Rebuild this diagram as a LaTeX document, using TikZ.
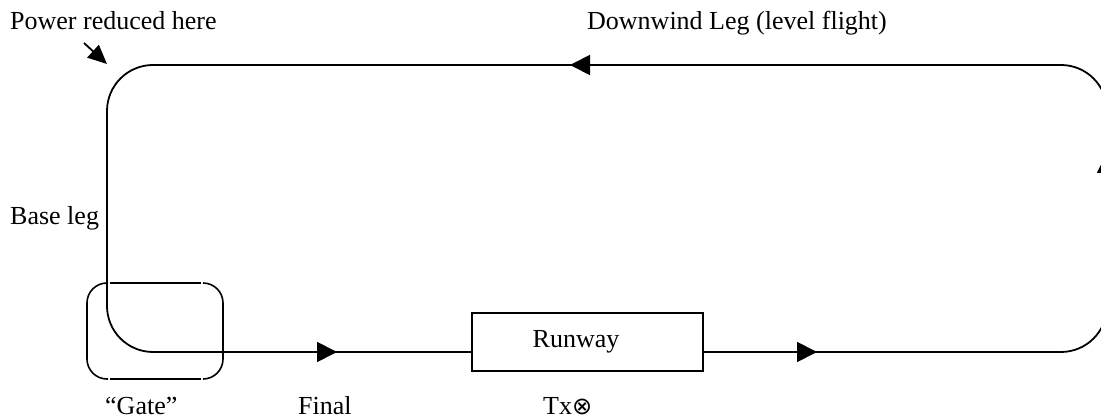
\documentclass[tikz,border=0pt]{standalone}
\usepackage{fontspec}
\setmainfont{Liberation Serif}
\newfontfamily\symfont{DejaVu Sans}
\usetikzlibrary{arrows.meta}
\begin{document}
\begin{tikzpicture}[x=1pt,y=-1pt,
  line/.style={line width=1.8pt},
  tri/.style={-{Triangle[length=20pt,width=20pt]}},
  lbl/.style={anchor=base west,inner sep=0pt,font=\fontsize{26}{30}\selectfont},
  gatepart/.style={line width=1.6pt,rounded corners=20pt},
  rwbox/.style={draw,line width=1.8pt,minimum width=231pt,minimum height=58pt,inner sep=0pt}]
\useasboundingbox (0,0) rectangle (1101,419);
% corner coordinates of the circuit
\coordinate (br) at (1107,352);
\coordinate (tr) at (1107,65);
\coordinate (tl) at (107,65);
\coordinate (bl) at (107,352);
% runway
\node[rwbox] (runway) at (587.5,342) {};
\node[lbl,anchor=base] (rwtext) at (576,348) {Runway};
\coordinate (rwin) at (runway.west |- bl);
\coordinate (rwout) at (runway.east |- bl);
% arrow tips
\coordinate (a1) at (817,352);
\coordinate (a2) at (1107,153);
\coordinate (a3) at (570,65);
\coordinate (a4) at (337,352);
\coordinate (s2) at (1107,260);
\coordinate (s3) at (700,65);
\coordinate (s4) at (250,352);
% the circuit
\draw[line,rounded corners=46pt] (rwout) -- (br) -- (tr) -- (tl) -- (bl) -- (rwin);
\draw[line,tri] (rwout) -- (a1);
\draw[line,tri] (s2) -- (a2);
\draw[line,tri] (s3) -- (a3);
\draw[line,tri] (s4) -- (a4);
% power reduced arrow
\coordinate (ps) at (84,43);
\coordinate (pe) at (107,64);
\draw[line,-{Triangle[length=19pt,width=17pt]}] (ps) -- (pe);
% gate box
\draw[gatepart] (108,283) -- (87,283) -- (87,379) -- (108,379);
\draw[gatepart] (203,283) -- (223,283) -- (223,379) -- (203,379);
\draw[gatepart] (110,283) -- (201,283);
\draw[gatepart] (110,379) -- (201,379);
% labels
\node[lbl] (power) at (10,30) {Power reduced here};
\node[lbl] (downwind) at (587,30) {Downwind Leg (level flight)};
\node[lbl] (base) at (10,225) {Base leg};
\node[lbl] (gate) at (105,415) {“Gate”};
\node[lbl] (final) at (298,415) {Final};
\node[lbl] (tx) at (543,415) {Tx{\symfont\fontsize{24}{28}\selectfont ⊗}};
\end{tikzpicture}
\end{document}
